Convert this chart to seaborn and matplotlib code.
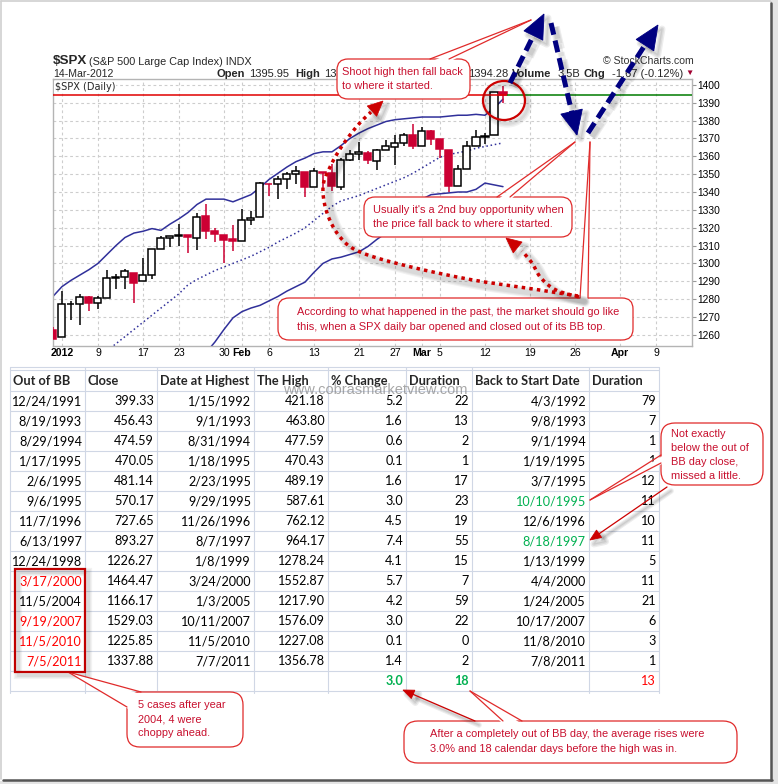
import numpy as np
import pandas as pd
import matplotlib
matplotlib.use("Agg")
import matplotlib.pyplot as plt
import seaborn as sns
from matplotlib.patches import FancyBboxPatch, Polygon, Ellipse, Rectangle

# ------------------------------------------------------------------ data
holidays = ["2012-01-02", "2012-01-16", "2012-02-20", "2012-04-06"]
calendar_start, calendar_end = "2011-12-30", "2012-04-13"
prev_close = 1263.02   # close of the bar before the first drawn one

opens = [1262.82, 1258.86, 1277.03, 1277.30, 1280.93, 1277.83, 1280.77, 1292.02, 1292.48, 1294.82,
         1290.22, 1293.65, 1308.07, 1314.49, 1315.29, 1315.96, 1314.40, 1326.28, 1318.25, 1316.16,
         1313.53, 1312.45, 1324.24, 1326.21, 1344.32, 1344.33, 1347.04, 1349.97, 1351.21, 1343.06,
         1351.30, 1350.52, 1342.61, 1358.06, 1361.22, 1362.11, 1357.53, 1363.46, 1365.20, 1367.56,
         1372.20, 1365.90, 1374.09, 1369.59, 1363.63, 1343.39, 1352.65, 1365.97, 1370.78, 1371.92,
         1395.95]
highs = [1264.12, 1284.62, 1278.73, 1283.05, 1281.84, 1281.99, 1296.46, 1293.80, 1296.82, 1294.82,
         1303.00, 1308.11, 1315.49, 1315.38, 1322.28, 1315.96, 1328.30, 1333.47, 1320.06, 1316.16,
         1321.41, 1330.52, 1329.19, 1345.34, 1344.36, 1349.24, 1351.00, 1354.32, 1351.21, 1353.35,
         1351.30, 1355.87, 1359.02, 1363.40, 1367.76, 1362.70, 1364.24, 1368.92, 1371.94, 1373.09,
         1378.04, 1376.17, 1374.53, 1369.59, 1363.63, 1354.85, 1368.72, 1374.76, 1373.04, 1396.13,
         1399.42]
lows = [1257.46, 1258.86, 1268.10, 1265.26, 1273.34, 1274.55, 1280.77, 1285.41, 1285.77, 1277.58,
        1290.22, 1290.99, 1308.07, 1309.17, 1309.89, 1306.06, 1307.65, 1313.60, 1311.72, 1300.49,
        1306.69, 1312.45, 1321.57, 1326.21, 1337.52, 1335.92, 1341.95, 1344.63, 1337.35, 1343.06,
        1340.83, 1340.80, 1341.22, 1357.24, 1358.11, 1355.53, 1352.28, 1363.46, 1354.92, 1365.97,
        1363.81, 1365.90, 1366.42, 1359.13, 1340.03, 1343.39, 1352.65, 1365.97, 1366.69, 1371.92,
        1389.97]
closes = [1257.60, 1277.06, 1277.30, 1281.06, 1277.81, 1280.70, 1292.08, 1292.48, 1295.50, 1289.09,
          1293.67, 1308.04, 1314.50, 1315.38, 1316.00, 1314.65, 1326.06, 1318.43, 1316.33, 1313.01,
          1312.41, 1324.09, 1325.54, 1344.90, 1344.33, 1347.05, 1349.96, 1351.95, 1342.64, 1351.77,
          1350.50, 1343.23, 1358.04, 1361.23, 1362.21, 1357.66, 1363.46, 1365.74, 1367.59, 1372.18,
          1365.68, 1374.09, 1369.63, 1364.33, 1343.36, 1352.63, 1365.91, 1370.87, 1371.09, 1395.95,
          1394.28]

bb_upper = [1281.5, 1287, 1290.5, 1293.5, 1296.5, 1300, 1305, 1310, 1314.5, 1317, 1318, 1319.5,
            1318.5, 1322, 1325, 1328.5, 1333, 1336, 1336, 1336, 1334.5, 1336.5, 1338.5, 1342.5,
            1347, 1350.5, 1354, 1357, 1359, 1361.5, 1362.5, 1362.5, 1366, 1370, 1373, 1375.5,
            1377.5, 1379.5, 1380.5, 1381, 1381.5, 1382, 1382, 1382, 1382.5, 1383, 1383, 1383.5,
            1383, 1387, 1392]
mid_start = "2012-01-10"
bb_mid = [1251, 1255, 1259, 1263, 1267, 1271, 1275, 1279, 1283, 1288, 1291, 1293.5, 1296, 1298,
          1300, 1302, 1304, 1306.5, 1309, 1312, 1314.5, 1317, 1320, 1324, 1328, 1332, 1335,
          1336.5, 1338, 1340, 1342, 1344, 1346, 1348, 1350.5, 1353.5, 1356.5, 1359.5, 1361, 1362,
          1363, 1364.5, 1365.5, 1366.5, 1367.5]
lower_start = "2012-01-26"
bb_lower = [1250, 1256, 1263, 1269.5, 1273, 1275, 1276.5, 1279, 1281.5, 1284.5, 1287, 1289.5,
            1295, 1300, 1302.5, 1303.5, 1305, 1306.5, 1309.5, 1313.5, 1317, 1321.5, 1326.5,
            1331.5, 1336, 1338.5, 1339, 1339.5, 1340, 1340, 1341.5, 1345, 1344, 1343]

tick_dates = ["2012-01-03", "2012-01-09", "2012-01-17", "2012-01-23", "2012-01-30", "2012-02-01",
              "2012-02-06", "2012-02-13", "2012-02-21", "2012-02-27", "2012-03-01", "2012-03-05",
              "2012-03-12", "2012-03-19", "2012-03-26", "2012-04-02", "2012-04-09"]
tick_labels = ["2012", "9", "17", "23", "30", "Feb", "6", "13", "21", "27", "Mar", "5", "12",
               "19", "26", "Apr", "9"]
y_ticks = list(range(1260, 1401, 10))

# header quote line (the part hidden behind the callout is not shown)
quote_left = [("Open", True), ("1395.95", False), ("High", True), ("139", False)]
quote_right = [("1394.28", False), ("Volume", True), ("3.5B", False), ("Chg", True),
               ("-1.67 (-0.12%)", False)]

# table data
headers = ["Out of BB", "Close", "Date at Highest", "The High", "% Change", "Duration",
           "Back to Start Date", "Duration"]
out_of_bb = ["12/24/1991", "8/19/1993", "8/29/1994", "1/17/1995", "2/6/1995", "9/6/1995",
             "11/7/1996", "6/13/1997", "12/24/1998", "3/17/2000", "11/5/2004", "9/19/2007",
             "11/5/2010", "7/5/2011"]
close_vals = [399.33, 456.43, 474.59, 470.05, 481.14, 570.17, 727.65, 893.27, 1226.27, 1464.47,
              1166.17, 1529.03, 1225.85, 1337.88]
date_high = ["1/15/1992", "9/1/1993", "8/31/1994", "1/18/1995", "2/23/1995", "9/29/1995",
             "11/26/1996", "8/7/1997", "1/8/1999", "3/24/2000", "1/3/2005", "10/11/2007",
             "11/5/2010", "7/7/2011"]
the_high = [421.18, 463.80, 477.59, 470.43, 489.19, 587.61, 762.12, 964.17, 1278.24, 1552.87,
            1217.90, 1576.09, 1227.08, 1356.78]
pct_change = [5.2, 1.6, 0.6, 0.1, 1.6, 3.0, 4.5, 7.4, 4.1, 5.7, 4.2, 3.0, 0.1, 1.4]
duration_high = [22, 13, 2, 1, 17, 23, 19, 55, 15, 7, 59, 22, 0, 2]
back_to_start = ["4/3/1992", "9/8/1993", "9/1/1994", "1/19/1995", "3/7/1995", "10/10/1995",
                 "12/6/1996", "8/18/1997", "1/13/1999", "4/4/2000", "1/24/2005", "10/17/2007",
                 "11/8/2010", "7/8/2011"]
duration_back = [79, 7, 1, 1, 12, 11, 10, 11, 5, 11, 21, 6, 3, 1]
red_rows = [9, 11, 12, 13]      # Out of BB dates shown in red
green_rows = [5, 7]             # Back to Start dates shown in green

# ------------------------------------------------------------------ style
sns.set_style("white")
plt.rcParams["font.family"] = ["Liberation Sans", "DejaVu Sans"]
TBL_FONT = ["Lato", "DejaVu Sans"]
RED = "#CC0033"
TXT_RED = "#C8102E"
EDGE_RED = "#E02A2A"
NAVY = "#000080"
BAND = "#30309A"
GREEN_XL = "#00B050"
CALL_FS = 7.9

W, H = 778, 784
fig = plt.figure(figsize=(W / 100, H / 100), dpi=100)
fig.patch.set_facecolor("white")

# ------------------------------------------------------------------ price chart
PX0, PX1, PY0, PY1 = 52.7, 692.0, 79.0, 345.7
ax = fig.add_axes([PX0 / W, 1 - PY1 / H, (PX1 - PX0) / W, (PY1 - PY0) / H])
ax.set_facecolor("white")

days = pd.bdate_range(calendar_start, calendar_end)
days = days[~days.isin(pd.to_datetime(holidays))]
pos = np.arange(len(days)) - 1.0
n = len(closes)
pc = pos[:n]

o, hi, lo, c = map(np.asarray, (opens, highs, lows, closes))
prev = np.r_[prev_close, c[:-1]]
edge = np.where(c >= prev, "black", RED)
face = np.where(c > o, "white", edge)

ax.vlines(pc, lo, hi, colors=edge, lw=1.1, zorder=3)
ax.bar(pc, np.maximum(np.abs(c - o), 0.12), bottom=np.minimum(o, c), width=0.78,
       color=face, edgecolor=edge, linewidth=1.1, zorder=4)

i_mid = days.get_loc(pd.Timestamp(mid_start))
i_low = days.get_loc(pd.Timestamp(lower_start))
sns.lineplot(x=pc, y=bb_upper, ax=ax, color=BAND, lw=1.1, zorder=2)
sns.lineplot(x=pos[i_mid:i_mid + len(bb_mid)], y=bb_mid, ax=ax, color=BAND, lw=1.1,
             linestyle=(0, (1.0, 1.8)), zorder=2)
sns.lineplot(x=pos[i_low:i_low + len(bb_lower)], y=bb_lower, ax=ax, color=BAND, lw=1.1, zorder=2)

# last price line
split = pc[-1] + 0.5
ax.hlines(c[-1], -1.03, split, color="#E00000", lw=1.1, zorder=5)
ax.hlines(c[-1], split, 70.0, color="#007A00", lw=1.1, zorder=5)

ax.set_xlim(-1.03, 70.0)
ax.set_ylim(1253.9, 1403.3)
tick_pos = pos[days.get_indexer(pd.to_datetime(tick_dates))]
ax.set_xticks(tick_pos)
ax.set_xticklabels(tick_labels)
for t, lab in zip(ax.get_xticklabels(), tick_labels):
    if (not lab.isdigit()) or len(lab) == 4:
        t.set_fontweight("bold")
ax.set_xticks(pos, minor=True)
ax.yaxis.tick_right()
ax.set_yticks(y_ticks)
ax.set_yticklabels([str(v) for v in y_ticks])
ax.tick_params(axis="x", which="major", length=0, pad=1.5, labelsize=7.6, colors="black")
ax.tick_params(axis="x", which="minor", length=2, direction="in", color="#A0A0A0")
ax.tick_params(axis="y", length=3, width=0.8, color="#999999", pad=1, labelsize=7.4,
               labelcolor="black")
ax.grid(True, which="major", color="#CDCDCD", ls=(0, (2.5, 2.5)), lw=0.8)
ax.set_axisbelow(True)
for s in ax.spines.values():
    s.set_color("#B4B4B4")
    s.set_linewidth(1.0)
ax.set_xlabel("")
ax.set_ylabel("")

# ------------------------------------------------------------------ overlay (pixel coords)
ov = fig.add_axes([0, 0, 1, 1], zorder=10)
ov.set_xlim(0, W)
ov.set_ylim(H, 0)
ov.axis("off")
ov.patch.set_alpha(0)


def T(x, y, s, **kw):
    kw.setdefault("va", "center")
    kw.setdefault("ha", "left")
    return ov.text(x, y, s, **kw)


# chart header
T(52.5, 60.5, "$SPX", fontsize=9.6, fontweight="bold")
T(89, 61.5, "(S&P 500 Large Cap Index) INDX", fontsize=7.8)
T(53, 73.5, "14-Mar-2012", fontsize=7.6)
T(603, 61, "© StockCharts.com", fontsize=7.6, color="#333333")
T(55, 87, "$SPX (Daily)", fontsize=7, family=["DejaVu Sans"],
  bbox=dict(fc="white", ec="none", pad=0.6))

renderer = fig.canvas.get_renderer()
gaps = {True: 4.0, False: 6.0}
x = 217.0
for s, b in quote_left:
    t = T(x, 73.5, s, fontsize=8, fontweight="bold" if b else "normal")
    x += t.get_window_extent(renderer=renderer).width + gaps[b]
x = 683.0
for s, b in reversed(quote_right):
    t = T(x, 73.5, s, fontsize=8, fontweight="bold" if b else "normal", ha="right")
    x -= t.get_window_extent(renderer=renderer).width + gaps[b]
T(685.5, 73, "▼", fontsize=6, color="#A00030")

# ------------------------------------------------------------------ table
cols = [10, 85, 157, 254, 328, 406, 472, 589, 659]
top, hdr_bot, rh = 370.0, 390.7, 20.0
nrows = len(out_of_bb) + 1
GRID = "#D0D7E5"
for y in [366.5, top] + [hdr_bot + rh * k for k in range(nrows + 1)]:
    ov.plot([cols[0], cols[-1]], [y, y], color=GRID, lw=0.8, zorder=1)
for xx in cols:
    ov.plot([xx, xx], [366.5, hdr_bot + rh * nrows + 2], color=GRID, lw=0.8, zorder=1)

for j, hname in enumerate(headers):
    T(cols[j] + 3, 380.8, hname, fontsize=9.2, fontweight="bold", family=TBL_FONT)

columns = [out_of_bb, [f"{v:.2f}" for v in close_vals], date_high,
           [f"{v:.2f}" for v in the_high], [f"{v:.1f}" for v in pct_change],
           [str(v) for v in duration_high], back_to_start, [str(v) for v in duration_back]]
for k in range(len(out_of_bb)):
    yc = hdr_bot + rh * k + 10.3
    for j, colvals in enumerate(columns):
        col = "black"
        if j == 0 and k in red_rows:
            col = "#FF0000"
        if j == 6 and k in green_rows:
            col = GREEN_XL
        T(cols[j + 1] - 3, yc, colvals[k], ha="right", fontsize=9.1, family=TBL_FONT, color=col)

yavg = hdr_bot + rh * (nrows - 1) + 10.3
T(cols[5] - 3, yavg, f"{np.mean(pct_change):.1f}", ha="right", fontsize=9.1, fontweight="bold",
  family=TBL_FONT, color=GREEN_XL)
T(cols[6] - 3, yavg, f"{np.mean(duration_high):.0f}", ha="right", fontsize=9.1, fontweight="bold",
  family=TBL_FONT, color=GREEN_XL)
T(cols[8] - 3, yavg, f"{np.mean(duration_back):.0f}", ha="right", fontsize=9.1,
  family=TBL_FONT, color="#FF0000")

T(283, 390, "www.cobrasmarketview.com", fontsize=10.5, color="#8A8A8A", alpha=0.75, zorder=3)


# ------------------------------------------------------------------ helpers
def soft_shadow_poly(pts, off=(3, 3), z=5, n=4, alpha=0.06):
    pts = np.asarray(pts, float) + off
    for i in range(n):
        ov.add_patch(Polygon(pts, closed=True, fc="none", ec="black", lw=1 + 2 * i,
                             alpha=alpha, joinstyle="round", zorder=z))


def soft_shadow_line(xs, ys, lw, off=(3, 3), z=5, n=4, alpha=0.06, ls="-"):
    for i in range(n):
        ov.plot(np.asarray(xs) + off[0], np.asarray(ys) + off[1], color="black",
                lw=lw + 1.6 * i, alpha=alpha, ls=ls, solid_capstyle="round", zorder=z)


def arrow(p0, p1, color, lw, ls, hl, hw, z, shadow=True):
    p0, p1 = np.asarray(p0, float), np.asarray(p1, float)
    d = p1 - p0
    u = d / np.hypot(*d)
    nrm = np.array([-u[1], u[0]])
    base = p1 - u * hl
    head = [p1, base + nrm * hw / 2, base - nrm * hw / 2]
    xs, ys = [p0[0], base[0] + u[0]], [p0[1], base[1] + u[1]]
    if shadow:
        soft_shadow_line(xs, ys, lw, off=(4, 4), z=z - 0.5, n=3, alpha=0.07, ls=ls)
        soft_shadow_poly(head, off=(4, 4), z=z - 0.5, n=3, alpha=0.07)
    ov.plot(xs, ys, color=color, lw=lw, ls=ls, dash_capstyle="butt", zorder=z)
    ov.add_patch(Polygon(head, closed=True, fc=color, ec=color, lw=0.6, zorder=z))


def callout(box, tip, b1, b2, inward, lines, tx, ty0, dy=14.0, r=11, z=6):
    x0, y0, x1, y1 = box
    ov.add_patch(FancyBboxPatch((x0, y0), x1 - x0, y1 - y0,
                                boxstyle=f"round,pad=0,rounding_size={r}",
                                fc="white", ec=EDGE_RED, lw=0.9, zorder=z))
    inw = np.asarray(inward, float)
    fill = [np.asarray(b1) + inw, tip, np.asarray(b2) + inw]
    ov.add_patch(Polygon(fill, closed=True, fc="white", ec="none", zorder=z + 0.1))
    for b in (b1, b2):
        ov.plot([b[0], tip[0]], [b[1], tip[1]], color=EDGE_RED, lw=0.9, zorder=z + 0.2)
    for i, s in enumerate(lines):
        T(tx, ty0 + i * dy, s, fontsize=CALL_FS, color=TXT_RED, zorder=z + 0.3)


def smooth(pts, m=16):
    P = np.asarray(pts, float)
    P = np.vstack([P[0], P, P[-1]])
    out = []
    for i in range(1, len(P) - 2):
        p0, p1, p2, p3 = P[i - 1], P[i], P[i + 1], P[i + 2]
        for t in np.linspace(0, 1, m, endpoint=False):
            out.append(0.5 * (2 * p1 + (-p0 + p2) * t + (2 * p0 - 5 * p1 + 4 * p2 - p3) * t * t
                              + (-p0 + 3 * p1 - 3 * p2 + p3) * t ** 3))
    out.append(P[-2])
    return np.array(out)


def dotted_arrow(pts, tip, hl=15, hw=14, z=7):
    S = smooth(pts)
    soft_shadow_line(S[:, 0], S[:, 1], 4, off=(6, 5), z=z - 0.5, n=3, alpha=0.05)
    ov.plot(S[:, 0], S[:, 1], color="#CC0000", lw=2.5, ls=(0, (1.0, 1.2)),
            dash_capstyle="butt", zorder=z)
    tip = np.asarray(tip, float)
    u = tip - S[-1]
    u = u / np.hypot(*u)
    nrm = np.array([-u[1], u[0]])
    base = tip - u * hl
    head = [tip, base + nrm * hw / 2, base - nrm * hw / 2]
    soft_shadow_poly(head, off=(4, 4), z=z - 0.5, n=3, alpha=0.07)
    ov.add_patch(Polygon(head, closed=True, fc="#CC0000", ec="#CC0000", lw=0.5, zorder=z))


# ------------------------------------------------------------------ annotations on chart
for i in range(3):
    ov.add_patch(Ellipse((507, 104), 42, 39, fc="none", ec="black", lw=2 + 2 * i, alpha=0.05,
                         zorder=6))
ov.add_patch(Ellipse((504, 100.5), 42, 39, fc="none", ec="#CC0000", lw=1.6, zorder=6.5))

dotted_arrow([(578, 296), (540, 290), (473, 280), (407, 266), (360, 252), (340, 237),
              (327, 213), (323, 187), (330, 167), (342, 146), (358, 125), (371, 112)],
             (383, 101))
dotted_arrow([(579, 297), (556, 290), (541, 278), (532, 263), (522, 251)], (506, 238))

callout((337, 59, 470, 99), (531, 20), (430, 59), (449, 59), (0, 3),
        ["Shoot high then fall back", "to where it started."], 342, 72.3, dy=14)
callout((364, 197, 572, 237), (575, 142), (497, 197), (510, 197), (0, 3),
        ["Usually it's a 2nd buy opportunity when", "the price fall back to where it started."],
        373, 209.5, dy=14)
callout((278, 298, 633, 340), (590, 142), (580, 298), (588, 298), (0, 3),
        ["According to what happened in the past, the market should go like",
         "this, when a SPX daily bar opened and closed out of its BB top."],
        297, 312, dy=14.5)

dash = (0, (2.4, 1.2))
arrow((510, 83), (544, 14), NAVY, 3.6, dash, 24, 21, z=9)
arrow((551, 23), (577, 135), NAVY, 3.6, dash, 24, 22, z=9)
arrow((588, 133), (658, 25), NAVY, 3.6, dash, 24, 21, z=9)

# ------------------------------------------------------------------ annotations on table
for i in range(3):
    ov.add_patch(Rectangle((18, 572), 70, 103, fc="none", ec="black", lw=2 + 2 * i,
                           alpha=0.05, zorder=6))
ov.add_patch(Rectangle((15, 569.3), 70.5, 103, fc="none", ec="#C00000", lw=1.6, zorder=6.5))

callout((127, 692, 243, 747), (68, 672), (127, 707), (141, 692), (3, 3),
        ["5 cases after year", "2004, 4 were", "choppy ahead."], 138, 705.5, dy=14, r=13)
callout((404, 721, 737, 763), (470, 691), (503, 721), (522, 721), (0, 3),
        ["After a completely out of BB day, the average rises were",
         "3.0% and 18 calendar days before the high was in."], 430, 734, dy=15, r=14)
callout((661, 423, 763, 485), (590, 500), (661, 455), (661, 463), (3, 0),
        ["Not exactly", "below the out of", "BB day close,", "missed a little."],
        671, 433.5, dy=14, r=14)

arrow((475, 721), (403, 690), "#CC0000", 0.9, "-", 11, 9, z=8)
arrow((667, 487), (590, 540), "#CC0000", 0.9, "-", 11, 9, z=8)

# ------------------------------------------------------------------ picture frame
ov.plot([1, 771, 771], [1.2, 1.2, 3], color="#D0D0D0", lw=1.2, zorder=20)
ov.plot([1.2, 1.2], [1, 779], color="#D0D0D0", lw=1.2, zorder=20)
ov.add_patch(Rectangle((772.5, 0), 6, H, fc="#E4E4E4", ec="none", zorder=19))
ov.add_patch(Rectangle((0, 781), W, 4, fc="#E4E4E4", ec="none", zorder=19))
ov.plot([771, 771], [3, 780], color="#555555", lw=1.8, zorder=20)
ov.plot([3, 772], [779.5, 779.5], color="#555555", lw=1.8, zorder=20)

fig.savefig("out.png", dpi=100, facecolor="white")
